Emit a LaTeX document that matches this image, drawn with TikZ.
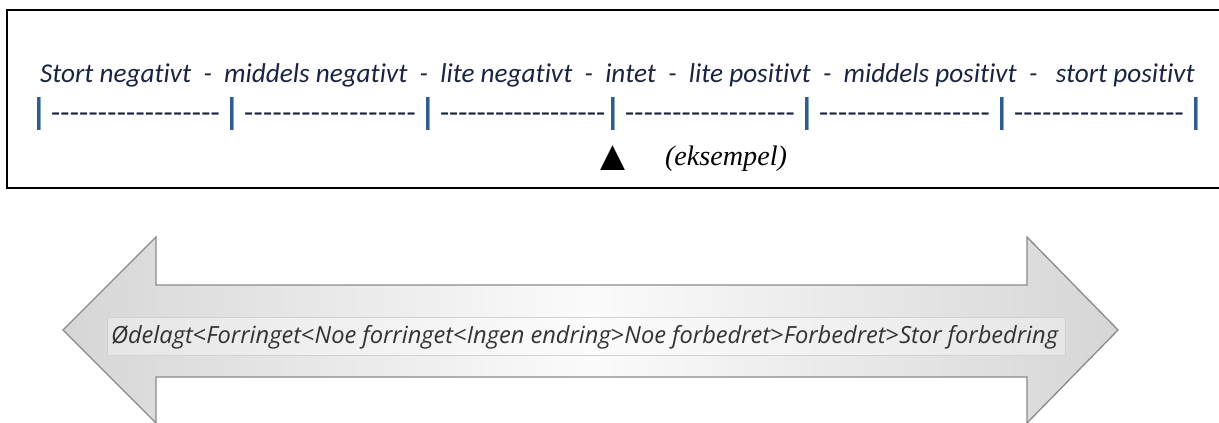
\documentclass[tikz,border=0pt]{standalone}
\usepackage{fontspec}
\setmainfont{Carlito}
\newfontfamily\calib[Ligatures={NoCommon,NoDiscretionary}]{Carlito}
\newfontfamily\segoe{Open Sans}
\newfontfamily\timesf{Liberation Serif}
\newfontfamily\symf{DejaVu Sans}
\usetikzlibrary{shadings}
\definecolor{navy}{HTML}{1A2440}
\definecolor{barblue}{HTML}{2F5C8F}
\definecolor{arrowedge}{HTML}{8A8A8A}
\definecolor{arrowside}{HTML}{D6D6D6}
\definecolor{arrowmid}{HTML}{FBFBFB}
\definecolor{txtgray}{HTML}{333333}
\newcommand\dashrun[1]{\makebox[#1][s]{-\hfill-\hfill-\hfill-\hfill-\hfill-\hfill-\hfill-\hfill-\hfill-\hfill-\hfill-\hfill-\hfill-\hfill-\hfill-\hfill-\hfill-}}
\tikzset{
  plain/.style={inner sep=0pt, outer sep=0pt},
  scaletext/.style={plain, text=navy, font=\calib\itshape},
  barmark/.style={plain, text=barblue, font=\calib\bfseries\fontsize{23}{23}\selectfont},
  dashmark/.style={plain, text=navy, font=\calib\fontsize{30}{30}\selectfont, anchor=base},
  framebox/.style={draw=black, line width=2pt},
  bigarrow/.style={draw=arrowedge, line width=1.3pt, line join=miter,
    left color=arrowside, right color=arrowside, middle color=arrowmid},
  labelbox/.style={draw=black!18, line width=0.8pt, fill=white, fill opacity=0.35},
  scalelabel/.style={plain, text=txtgray, font=\segoe\itshape, anchor=base west}
}
\begin{document}
\begin{tikzpicture}[x=1pt, y=-1pt]
\useasboundingbox (0,0) rectangle (1219,423);
% top frame (open on the right)
\draw[framebox] (1220,10) -- (7,10) -- (7,188) -- (1220,188);
% scale text
\node[scaletext, anchor=base west] (scale) at (40,82)
  {\resizebox{1155pt}{!}{Stort negativt\ \ -\ \ middels negativt\ \ -\ \ lite negativt\ \ -\ \ intet\ \ -\ \ lite positivt\ \ -\ \ middels positivt\ \ -\ \ \ stort positivt}};
% bars
\foreach \x [count=\k] in {39,232,428,613,807,1002,1196}
  \node[barmark] (bar\k) at (\x,113.5) {\resizebox{!}{27pt}{|}};
% dash runs
\foreach \a/\b [count=\k] in {39/232,232/428,428/613,613/807,807/1002,1002/1196} {
  \pgfmathsetmacro\w{\b-\a-24}
  \node[dashmark] (dash\k) at ({(\a+\b)/2},122) {\dashrun{\w pt}};
}
% marker and example
\node[plain] (marker) at (613,158) {\resizebox{25pt}{!}{\symf ▲}};
\node[plain, anchor=west] (example) at (665,159) {\resizebox{122pt}{!}{\timesf\itshape (eksempel)}};
% double arrow
\draw[bigarrow] (63,330) -- (156,237) -- (156,285) -- (1027,285) -- (1027,237)
  -- (1118,330) -- (1027,423) -- (1027,377) -- (156,377) -- (156,423) -- cycle;
\draw[labelbox] (107,317) rectangle (1065,355);
\node[scalelabel] (label) at (111,343)
  {\resizebox{947pt}{!}{Ødelagt{\upshape<}Forringet{\upshape<}Noe forringet{\upshape<}Ingen endring{\upshape>}Noe forbedret{\upshape>}Forbedret{\upshape>}Stor forbedring}};
\end{tikzpicture}
\end{document}
